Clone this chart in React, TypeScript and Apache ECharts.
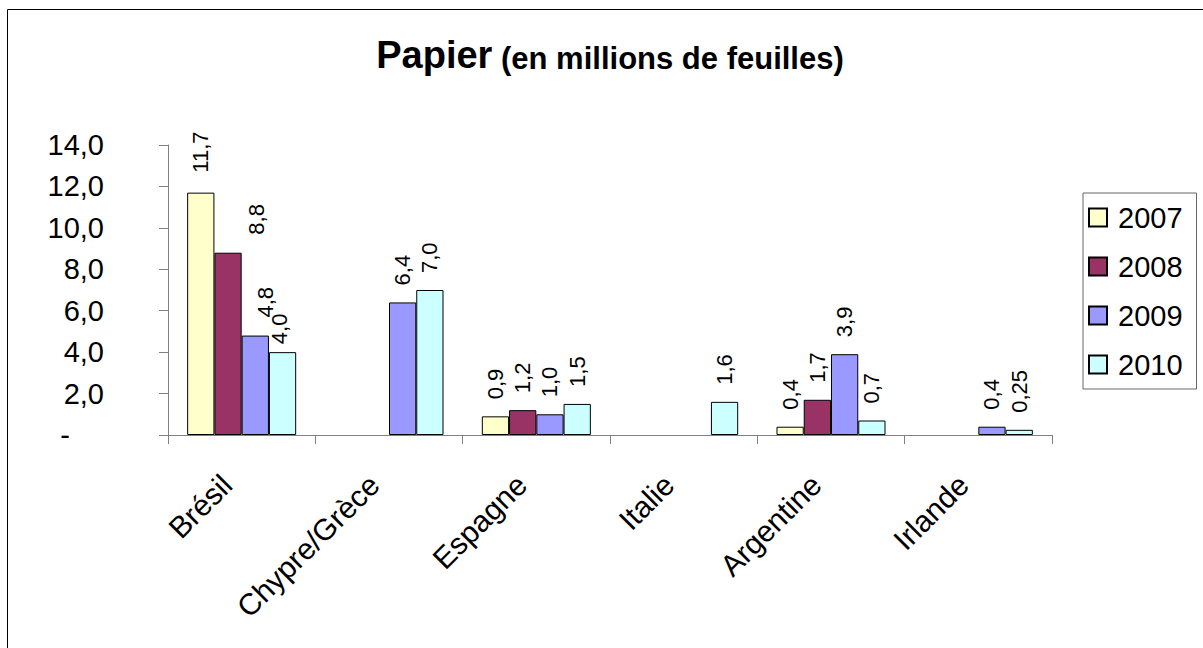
import React, { useEffect, useRef } from "react";
import * as echarts from "echarts";

const categories = ["Brésil", "Chypre/Grèce", "Espagne", "Italie", "Argentine", "Irlande"];
const years = ["2007", "2008", "2009", "2010"];
const values2007 = [11.7, null, 0.9, null, 0.4, null];
const values2008 = [8.8, null, 1.2, null, 1.7, null];
const values2009 = [4.8, 6.4, 1.0, null, 3.9, 0.4];
const values2010 = [4.0, 7.0, 1.5, 1.6, 0.7, 0.25];
const yTickLabels = ["-", "2,0", "4,0", "6,0", "8,0", "10,0", "12,0", "14,0"];
const colors = ["#FFFFCC", "#993366", "#9999FF", "#CCFFFF"];

const FONT = "'Liberation Sans', Arial, sans-serif";

// label offsets (in rotated text frame) for crowded Brésil labels: [alongText, across]
const labelAdjust: Record<string, [number, number]> = {
  "0-0": [3, 0],
  "1-0": [1, 28],
  "2-0": [1, 10],
  "3-0": [-9, -3],
};

function fmt(v: number) {
  const s = Math.round(v * 10) === v * 10 ? v.toFixed(1) : String(v);
  return s.replace(".", ",");
}

export default function App() {
  const ref = useRef<HTMLDivElement>(null);
  useEffect(() => {
    if (!ref.current) return;
    const chart = echarts.init(ref.current, null, { renderer: "svg" });
    const seriesValues = [values2007, values2008, values2009, values2010];
    const series = seriesValues.map((vals, si) => ({
      type: "bar",
      name: years[si],
      data: vals.map((v, ci) => {
        const adj = labelAdjust[`${si}-${ci}`];
        if (v === null) return "-";
        return adj ? { value: v, label: { offset: adj } } : v;
      }),
      barGap: "0%",
      barCategoryGap: "26%",
      itemStyle: { color: colors[si], borderColor: "#000", borderWidth: 1 },
      label: {
        show: true,
        position: "top",
        rotate: 90,
        align: "left",
        verticalAlign: "middle",
        distance: 17,
        fontSize: 22,
        fontFamily: FONT,
        color: "#000",
        formatter: (p: any) => fmt(p.value),
      },
    }));
    chart.setOption({
      animation: false,
      backgroundColor: "#fff",
      title: {
        text: "{a|Papier}{b| (en millions de feuilles)}",
        left: 605,
        top: 31,
        textAlign: "center",
        textStyle: {
          rich: {
            a: { fontSize: 38, fontWeight: "bold", fontFamily: FONT, color: "#000", verticalAlign: "bottom" },
            b: { fontSize: 31, fontWeight: "bold", fontFamily: FONT, color: "#000", verticalAlign: "bottom" },
          },
        },
      },
      legend: {
        orient: "vertical",
        left: 1083,
        top: 193,
        padding: [10, 14, 10, 5],
        itemWidth: 18,
        itemHeight: 18,
        itemGap: 20,
        borderColor: "#666",
        borderWidth: 1,
        icon: "rect",
        data: years,
        textStyle: { fontSize: 29, fontFamily: FONT, color: "#000", padding: [0, 0, 0, 6] },
      },
      grid: { left: 168, right: 151, top: 145, bottom: 213, containLabel: false },
      xAxis: {
        type: "category",
        data: categories,
        axisLine: { lineStyle: { color: "#808080", width: 1 } },
        axisTick: { show: true, length: 9, alignWithLabel: false, interval: 0, lineStyle: { color: "#808080" } },
        axisLabel: {
          interval: 0,
          rotate: 45,
          fontSize: 30,
          fontFamily: FONT,
          color: "#000",
          margin: 30,
          padding: [0, 21, 6, 0],
        },
        splitLine: { show: false },
      },
      yAxis: {
        type: "value",
        min: 0,
        max: 14,
        interval: 2,
        axisLine: { show: true, lineStyle: { color: "#808080", width: 1 } },
        axisTick: { show: true, length: 9, lineStyle: { color: "#808080" } },
        splitLine: { show: false },
        axisLabel: {
          fontSize: 29,
          fontFamily: FONT,
          color: "#000",
          margin: 64,
          formatter: (v: number) => {
            const s = yTickLabels[Math.round(v / 2)];
            return v === 0 ? "{d|" + s + "}" : s;
          },
          rich: { d: { fontSize: 29, fontFamily: FONT, color: "#000", padding: [0, 34, 0, 0] } },
        },
      },
      graphic: [
        {
          type: "rect",
          shape: { x: 7.5, y: 9.5, width: 1210, height: 660 },
          style: { fill: "none", stroke: "#000", lineWidth: 1 },
          silent: true,
        },
      ],
      series,
    });
    return () => chart.dispose();
  }, []);
  return (
    <div
      ref={ref}
      style={{ position: "fixed", left: 0, top: 0, width: 1203, height: 648, background: "#fff" }}
    />
  );
}
